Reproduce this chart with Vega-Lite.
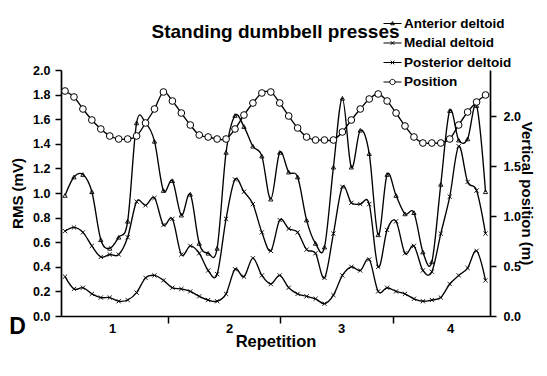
{
  "$schema": "https://vega.github.io/schema/vega-lite/v6.json",
  "width": 429,
  "height": 246,
  "autosize": {"type": "none"},
  "padding": {"left": 61, "top": 70, "right": 57, "bottom": 60},
  "background": "white",
  "config": {
    "view": {"stroke": null},
    "font": "Liberation Sans",
    "axis": {
      "grid": false,
      "domainColor": "black",
      "domainWidth": 1.7,
      "tickColor": "black",
      "tickWidth": 1.5,
      "labelColor": "black",
      "labelFont": "Liberation Sans",
      "labelFontWeight": "bold",
      "labelFontSize": 12.5,
      "titleColor": "black",
      "titleFont": "Liberation Sans",
      "titleFontWeight": "bold",
      "titleFontSize": 15
    }
  },
  "title": {
    "text": "Standing dumbbell presses",
    "font": "Liberation Sans",
    "fontSize": 19,
    "fontWeight": "bold",
    "color": "black",
    "anchor": "middle",
    "frame": "group",
    "offset": -28
  },
  "data": {
    "values": [
      {"i": 0, "Anterior deltoid": 0.98, "Medial deltoid": 0.69, "Posterior deltoid": 0.32, "Position": 2.25},
      {"i": 1, "Anterior deltoid": 1.13, "Medial deltoid": 0.72, "Posterior deltoid": 0.22, "Position": 2.19},
      {"i": 2, "Anterior deltoid": 1.15, "Medial deltoid": 0.68, "Posterior deltoid": 0.23, "Position": 2.07},
      {"i": 3, "Anterior deltoid": 1.01, "Medial deltoid": 0.57, "Posterior deltoid": 0.18, "Position": 1.96},
      {"i": 4, "Anterior deltoid": 0.62, "Medial deltoid": 0.48, "Posterior deltoid": 0.15, "Position": 1.87},
      {"i": 5, "Anterior deltoid": 0.55, "Medial deltoid": 0.50, "Posterior deltoid": 0.15, "Position": 1.80},
      {"i": 6, "Anterior deltoid": 0.64, "Medial deltoid": 0.50, "Posterior deltoid": 0.12, "Position": 1.77},
      {"i": 7, "Anterior deltoid": 0.77, "Medial deltoid": 0.64, "Posterior deltoid": 0.13, "Position": 1.77},
      {"i": 8, "Anterior deltoid": 1.57, "Medial deltoid": 0.93, "Posterior deltoid": 0.19, "Position": 1.80},
      {"i": 9, "Anterior deltoid": 1.57, "Medial deltoid": 0.90, "Posterior deltoid": 0.31, "Position": 1.93},
      {"i": 10, "Anterior deltoid": 1.42, "Medial deltoid": 0.96, "Posterior deltoid": 0.33, "Position": 2.07},
      {"i": 11, "Anterior deltoid": 1.02, "Medial deltoid": 0.74, "Posterior deltoid": 0.29, "Position": 2.24},
      {"i": 12, "Anterior deltoid": 1.10, "Medial deltoid": 0.79, "Posterior deltoid": 0.23, "Position": 2.15},
      {"i": 13, "Anterior deltoid": 0.82, "Medial deltoid": 0.50, "Posterior deltoid": 0.22, "Position": 2.03},
      {"i": 14, "Anterior deltoid": 0.99, "Medial deltoid": 0.57, "Posterior deltoid": 0.20, "Position": 1.91},
      {"i": 15, "Anterior deltoid": 0.59, "Medial deltoid": 0.51, "Posterior deltoid": 0.16, "Position": 1.81},
      {"i": 16, "Anterior deltoid": 0.51, "Medial deltoid": 0.37, "Posterior deltoid": 0.13, "Position": 1.79},
      {"i": 17, "Anterior deltoid": 0.55, "Medial deltoid": 0.34, "Posterior deltoid": 0.12, "Position": 1.77},
      {"i": 18, "Anterior deltoid": 1.33, "Medial deltoid": 0.79, "Posterior deltoid": 0.18, "Position": 1.77},
      {"i": 19, "Anterior deltoid": 1.63, "Medial deltoid": 1.11, "Posterior deltoid": 0.38, "Position": 1.87},
      {"i": 20, "Anterior deltoid": 1.54, "Medial deltoid": 1.01, "Posterior deltoid": 0.32, "Position": 2.01},
      {"i": 21, "Anterior deltoid": 1.38, "Medial deltoid": 0.91, "Posterior deltoid": 0.47, "Position": 2.13},
      {"i": 22, "Anterior deltoid": 1.30, "Medial deltoid": 0.68, "Posterior deltoid": 0.33, "Position": 2.23},
      {"i": 23, "Anterior deltoid": 0.95, "Medial deltoid": 0.53, "Posterior deltoid": 0.26, "Position": 2.24},
      {"i": 24, "Anterior deltoid": 1.33, "Medial deltoid": 0.78, "Posterior deltoid": 0.33, "Position": 2.13},
      {"i": 25, "Anterior deltoid": 1.17, "Medial deltoid": 0.71, "Posterior deltoid": 0.23, "Position": 2.00},
      {"i": 26, "Anterior deltoid": 1.13, "Medial deltoid": 0.68, "Posterior deltoid": 0.18, "Position": 1.88},
      {"i": 27, "Anterior deltoid": 0.78, "Medial deltoid": 0.54, "Posterior deltoid": 0.16, "Position": 1.79},
      {"i": 28, "Anterior deltoid": 0.59, "Medial deltoid": 0.51, "Posterior deltoid": 0.14, "Position": 1.76},
      {"i": 29, "Anterior deltoid": 0.56, "Medial deltoid": 0.31, "Posterior deltoid": 0.10, "Position": 1.76},
      {"i": 30, "Anterior deltoid": 1.21, "Medial deltoid": 0.67, "Posterior deltoid": 0.17, "Position": 1.76},
      {"i": 31, "Anterior deltoid": 1.77, "Medial deltoid": 1.05, "Posterior deltoid": 0.33, "Position": 1.84},
      {"i": 32, "Anterior deltoid": 1.21, "Medial deltoid": 0.92, "Posterior deltoid": 0.40, "Position": 1.96},
      {"i": 33, "Anterior deltoid": 1.51, "Medial deltoid": 0.91, "Posterior deltoid": 0.37, "Position": 2.07},
      {"i": 34, "Anterior deltoid": 1.32, "Medial deltoid": 0.91, "Posterior deltoid": 0.46, "Position": 2.17},
      {"i": 35, "Anterior deltoid": 0.66, "Medial deltoid": 0.40, "Posterior deltoid": 0.20, "Position": 2.22},
      {"i": 36, "Anterior deltoid": 1.15, "Medial deltoid": 0.70, "Posterior deltoid": 0.23, "Position": 2.15},
      {"i": 37, "Anterior deltoid": 0.98, "Medial deltoid": 0.77, "Posterior deltoid": 0.20, "Position": 2.03},
      {"i": 38, "Anterior deltoid": 0.83, "Medial deltoid": 0.51, "Posterior deltoid": 0.18, "Position": 1.90},
      {"i": 39, "Anterior deltoid": 0.84, "Medial deltoid": 0.57, "Posterior deltoid": 0.14, "Position": 1.79},
      {"i": 40, "Anterior deltoid": 0.52, "Medial deltoid": 0.37, "Posterior deltoid": 0.12, "Position": 1.73},
      {"i": 41, "Anterior deltoid": 0.44, "Medial deltoid": 0.36, "Posterior deltoid": 0.13, "Position": 1.73},
      {"i": 42, "Anterior deltoid": 1.07, "Medial deltoid": 0.67, "Posterior deltoid": 0.15, "Position": 1.73},
      {"i": 43, "Anterior deltoid": 1.67, "Medial deltoid": 0.97, "Posterior deltoid": 0.26, "Position": 1.77},
      {"i": 44, "Anterior deltoid": 1.43, "Medial deltoid": 1.38, "Posterior deltoid": 0.33, "Position": 1.91},
      {"i": 45, "Anterior deltoid": 1.44, "Medial deltoid": 1.09, "Posterior deltoid": 0.39, "Position": 2.04},
      {"i": 46, "Anterior deltoid": 1.71, "Medial deltoid": 1.02, "Posterior deltoid": 0.53, "Position": 2.14},
      {"i": 47, "Anterior deltoid": 1.01, "Medial deltoid": 0.67, "Posterior deltoid": 0.29, "Position": 2.21}
    ]
  },
  "encoding": {
    "x": {
      "field": "i",
      "type": "quantitative",
      "scale": {"domain": [-0.45, 47.5], "nice": false, "zero": false},
      "axis": {
        "title": "Repetition",
        "titleFontSize": 16.5,
        "titlePadding": -2,
        "values": [5.25, 11.51, 18.33, 24.03, 30.85, 36.66, 43.03],
        "tickSize": 7,
        "labelPadding": -1,
        "labelFontSize": 13,
        "labelFlush": false,
        "labelOverlap": false,
        "tickOpacity": {
          "condition": {"test": "(datum.value > 11 && datum.value < 12) || (datum.value > 23.5 && datum.value < 24.5) || (datum.value > 36 && datum.value < 37)", "value": 1},
          "value": 0
        },
        "labelExpr": "datum.value < 8 ? '1' : (datum.value > 18 && datum.value < 19) ? '2' : (datum.value > 30 && datum.value < 31) ? '3' : datum.value > 42 ? '4' : ''"
      }
    }
  },
  "layer": [
    {
      "transform": [{"fold": ["Anterior deltoid", "Medial deltoid", "Posterior deltoid"], "as": ["series", "rms"]}],
      "encoding": {
        "y": {
          "field": "rms",
          "type": "quantitative",
          "scale": {"domain": [0, 2], "nice": false},
          "axis": {
            "title": "RMS (mV)",
            "values": [0, 0.2, 0.4, 0.6, 0.8, 1.0, 1.2, 1.4, 1.6, 1.8, 2.0],
            "format": ".1f",
            "tickSize": 6,
            "labelPadding": 5,
            "titlePadding": 7
          }
        }
      },
      "layer": [
        {
          "mark": {"type": "line", "interpolate": "cardinal", "color": "black", "strokeWidth": 1.35},
          "encoding": {"detail": {"field": "series", "type": "nominal"}}
        },
        {
          "mark": {"type": "point", "filled": false, "color": "black", "strokeWidth": 0.9, "size": 18, "opacity": 1},
          "encoding": {
            "shape": {
              "field": "series",
              "type": "nominal",
              "scale": {
                "domain": ["Anterior deltoid", "Medial deltoid", "Posterior deltoid"],
                "range": ["triangle-up", "M-1,-1L1,1M-1,1L1,-1", "M-1,-1L1,1M-1,1L1,-1"]
              },
              "legend": null
            }
          }
        }
      ]
    },
    {
      "encoding": {
        "y": {
          "field": "Position",
          "type": "quantitative",
          "scale": {"domain": [0, 2.46], "nice": false},
          "axis": {
            "orient": "right",
            "title": "Vertical position (m)",
            "values": [0, 0.5, 1.0, 1.5, 2.0],
            "format": ".1f",
            "tickSize": 6,
            "labelPadding": 7,
            "titlePadding": -2
          }
        }
      },
      "layer": [
        {
          "mark": {"type": "line", "interpolate": "cardinal", "color": "black", "strokeWidth": 1.35},
          "encoding": {}
        },
        {
          "mark": {"type": "point", "shape": "circle", "size": 45, "filled": false, "fill": "white", "fillOpacity": 1, "stroke": "black", "strokeWidth": 1, "opacity": 1},
          "encoding": {}
        }
      ]
    },
    {
      "transform": [{"fold": ["Anterior deltoid", "Medial deltoid", "Posterior deltoid", "Position"], "as": ["series", "val"]}],
      "mark": {"type": "point", "filled": false, "color": "black", "opacity": 0},
      "encoding": {
        "shape": {
          "field": "series",
          "type": "nominal",
          "scale": {
            "domain": ["Anterior deltoid", "Medial deltoid", "Posterior deltoid", "Position"],
            "range": [
              "M-1,0H1M0,-0.22L0.2,0.14L-0.2,0.14Z",
              "M-1,0H1M-0.2,-0.2L0.2,0.2M-0.2,0.2L0.2,-0.2",
              "M-1,0H1M-0.2,-0.2L0.2,0.2M-0.2,0.2L0.2,-0.2",
              "M-1,0H-0.3M0.3,0H1M-0.3,0A0.3,0.3 0 1,0 0.3,0A0.3,0.3 0 1,0 -0.3,0"
            ]
          },
          "legend": {
            "title": null,
            "orient": "none",
            "legendX": 322,
            "legendY": -56,
            "padding": 0,
            "symbolSize": 324,
            "symbolStrokeWidth": 1,
            "symbolOpacity": 1,
            "symbolStrokeColor": "black",
            "symbolFillColor": "white",
            "labelFont": "Liberation Sans",
            "labelFontWeight": "bold",
            "labelFontSize": 13.5,
            "labelColor": "black",
            "labelOffset": 2,
            "rowPadding": 3.5
          }
        }
      }
    },
    {
      "transform": [{"filter": "datum.i == 0"}],
      "mark": {"type": "text", "text": "D", "font": "Liberation Sans", "fontWeight": "bold", "fontSize": 23, "color": "black", "align": "center", "baseline": "middle"},
      "encoding": {
        "x": {"datum": -5.3, "type": "quantitative", "scale": {"domain": [-0.45, 47.5], "nice": false, "zero": false}},
        "y": {"datum": -0.09, "type": "quantitative", "scale": {"domain": [0, 2], "nice": false}, "axis": null}
      }
    }
  ],
  "resolve": {"scale": {"y": "independent", "shape": "independent"}}
}
